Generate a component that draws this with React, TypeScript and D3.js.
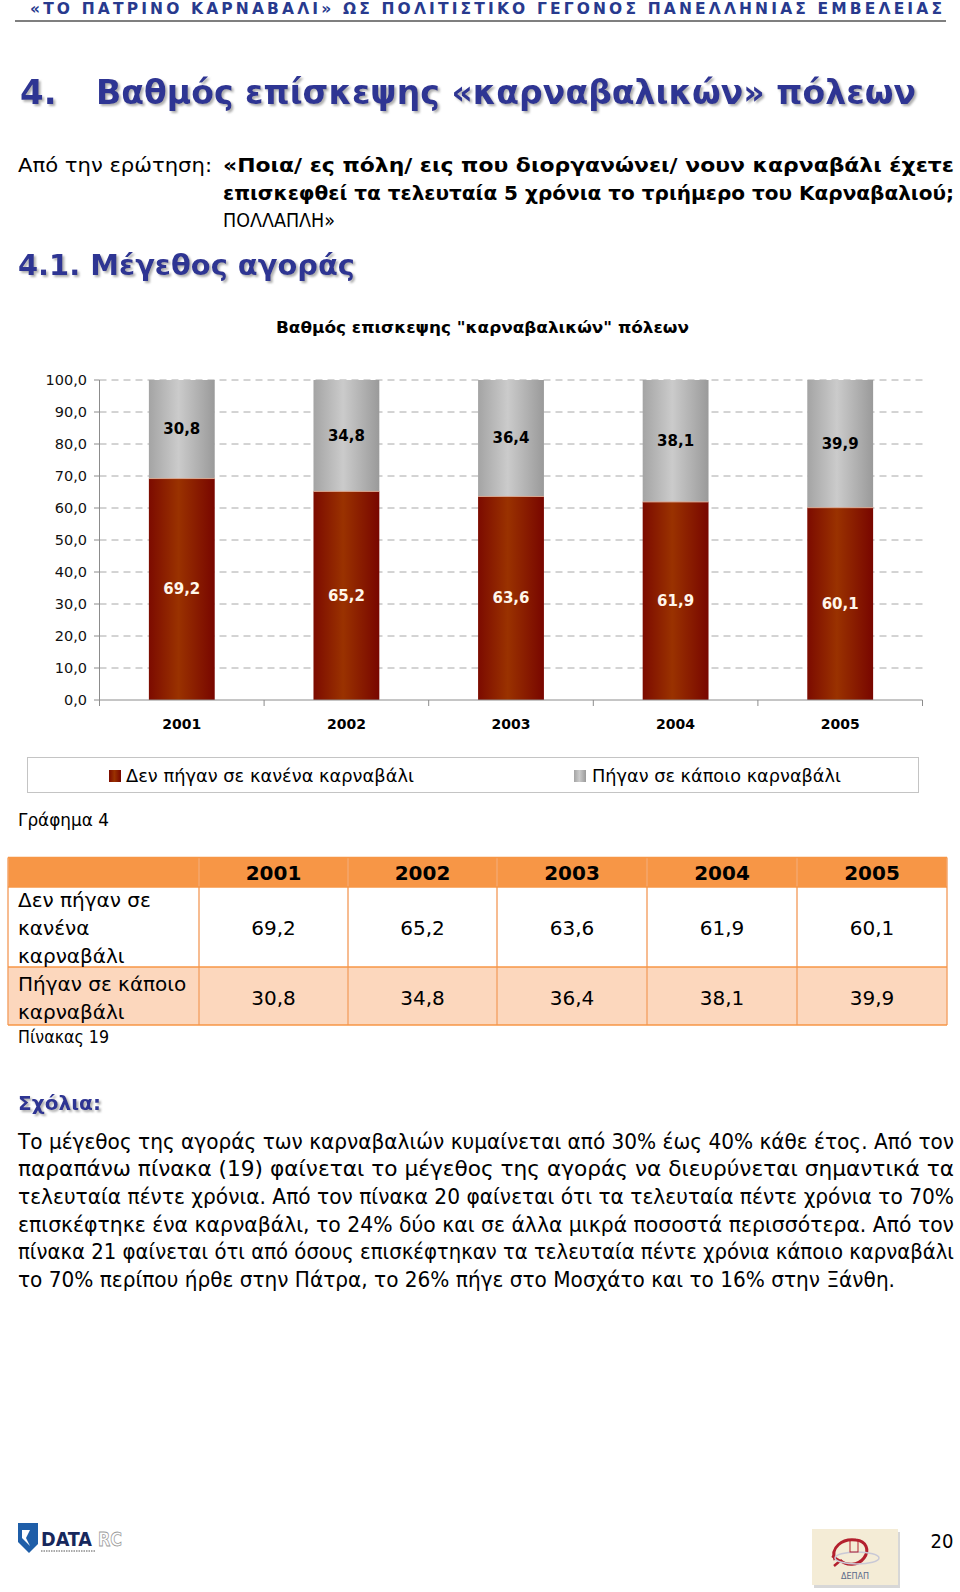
import React from "react";
import * as d3 from "d3";

// ---------- data ----------
const years = ["2001", "2002", "2003", "2004", "2005"];
const notWentValues = [69.2, 65.2, 63.6, 61.9, 60.1];
const wentValues = [30.8, 34.8, 36.4, 38.1, 39.9];
const seriesKeys = ["notWent", "went"];
const seriesNames = ["Δεν πήγαν σε κανένα καρναβάλι", "Πήγαν σε κάποιο καρναβάλι"];
const yTickValues = [0, 10, 20, 30, 40, 50, 60, 70, 80, 90, 100];
const tableRowLabels = [
  ["Δεν πήγαν σε", "κανένα", "καρναβάλι"],
  ["Πήγαν σε κάποιο", "καρναβάλι"],
];
const paragraphLines = [
  "Το μέγεθος της αγοράς των καρναβαλιών κυμαίνεται από 30% έως 40% κάθε έτος. Από τον",
  "παραπάνω πίνακα (19) φαίνεται το μέγεθος της αγοράς να διευρύνεται σημαντικά τα",
  "τελευταία πέντε χρόνια. Από τον πίνακα 20 φαίνεται ότι τα τελευταία πέντε χρόνια το 70%",
  "επισκέφτηκε ένα καρναβάλι, το 24% δύο και σε άλλα μικρά ποσοστά περισσότερα. Από τον",
  "πίνακα 21 φαίνεται ότι από όσους επισκέφτηκαν τα τελευταία πέντε χρόνια κάποιο καρναβάλι",
  "το 70% περίπου ήρθε στην Πάτρα, το 26% πήγε στο Μοσχάτο και το 16% στην Ξάνθη.",
];

const SANS = "'DejaVu Sans', Verdana, sans-serif";
const COND = "'DejaVu Sans Condensed', 'DejaVu Sans', sans-serif";
const BLUE = "#2f3593";

const locale = d3.formatLocale({ decimal: ",", thousands: ".", grouping: [3], currency: ["", "€"] });
const fmt = locale.format(".1f");

export default function App() {
  // chart geometry
  const plotLeft = 99.5, plotRight = 922.5, plotTop = 380, plotBottom = 700;
  const x = d3.scaleBand<string>().domain(years).range([plotLeft, plotRight]).paddingInner(0.6).paddingOuter(0.3);
  const y = d3.scaleLinear().domain([0, 100]).range([plotBottom, plotTop]);
  const rows = years.map((yr, i) => ({ year: yr, notWent: notWentValues[i], went: wentValues[i] }));
  const stacked = d3.stack<any>().keys(seriesKeys)(rows);
  const fills = ["url(#gRed)", "url(#gGray)"];
  const labelColors = ["#fff6ea", "#000"];

  // table geometry
  const colEdges = [8, 199, 348, 497, 647, 797, 947];
  const rowEdges = [857.5, 887, 967, 1025];
  const paraY = [1142, 1169, 1197, 1225, 1252, 1280];

  return (
    <svg width={960} height={1592} style={{ position: "absolute", left: 0, top: 0, display: "block", background: "#fff" }}>
      <defs>
        <linearGradient id="gRed" x1="0" x2="1" y1="0" y2="0">
          <stop offset="0%" stopColor="#7c0b00" />
          <stop offset="45%" stopColor="#9a3200" />
          <stop offset="100%" stopColor="#780600" />
        </linearGradient>
        <linearGradient id="gGray" x1="0" x2="1" y1="0" y2="0">
          <stop offset="0%" stopColor="#a4a4a4" />
          <stop offset="45%" stopColor="#cbcbcb" />
          <stop offset="100%" stopColor="#9a9a9a" />
        </linearGradient>
        <filter id="shadow" x="-5%" y="-20%" width="110%" height="150%">
          <feDropShadow dx="2" dy="2" stdDeviation="0.8" floodColor="#9a9a9a" floodOpacity="0.8" />
        </filter>
      </defs>
      <rect x={0} y={0} width={960} height={1592} fill="#fff" />

      {/* running header */}
      <text x={30} y={9} dominantBaseline="central" fontFamily={SANS} fontWeight="bold" fontSize={15.5} fill="#283a8e"
        textLength={912} lengthAdjust="spacing">
        «ΤΟ ΠΑΤΡΙΝΟ ΚΑΡΝΑΒΑΛΙ» ΩΣ ΠΟΛΙΤΙΣΤΙΚΟ ΓΕΓΟΝΟΣ ΠΑΝΕΛΛΗΝΙΑΣ ΕΜΒΕΛΕΙΑΣ
      </text>
      <line x1={15} x2={946} y1={21} y2={21} stroke="#000" strokeWidth={1.2} />

      {/* section title */}
      <g filter="url(#shadow)" fill={BLUE} fontFamily={SANS} fontWeight="bold">
        <text x={20} y={92} dominantBaseline="central" fontSize={34}>4.</text>
        <text x={96} y={92} dominantBaseline="central" fontSize={34} textLength={820} lengthAdjust="spacingAndGlyphs">
          Βαθμός επίσκεψης «καρναβαλικών» πόλεων
        </text>
      </g>

      {/* question */}
      <g fontFamily={COND} fontSize={20} fill="#000">
        <text x={18} y={165} dominantBaseline="central" textLength={194} lengthAdjust="spacingAndGlyphs">Από την ερώτηση:</text>
        <text x={223} y={165} dominantBaseline="central" fontWeight="bold" textLength={731} lengthAdjust="spacingAndGlyphs">
          «Ποια/ ες πόλη/ εις που διοργανώνει/ νουν καρναβάλι έχετε
        </text>
        <text x={223} y={193} dominantBaseline="central" fontWeight="bold" textLength={731} lengthAdjust="spacingAndGlyphs">
          επισκεφθεί τα τελευταία 5 χρόνια το τριήμερο του Καρναβαλιού;
        </text>
        <text x={223} y={220} dominantBaseline="central" fontSize={19} textLength={112} lengthAdjust="spacingAndGlyphs">
          ΠΟΛΛΑΠΛΗ»
        </text>
      </g>

      {/* subsection */}
      <text x={18} y={265} dominantBaseline="central" fontFamily={SANS} fontWeight="bold" fontSize={28} fill={BLUE}
        filter="url(#shadow)" textLength={337} lengthAdjust="spacingAndGlyphs">
        4.1. Μέγεθος αγοράς
      </text>

      {/* ---------- chart ---------- */}
      <text x={482.5} y={327} textAnchor="middle" dominantBaseline="central" fontFamily={SANS} fontWeight="bold"
        fontSize={16} textLength={413} lengthAdjust="spacingAndGlyphs">
        Βαθμός επισκεψης "καρναβαλικών" πόλεων
      </text>

      {/* gridlines */}
      {yTickValues.filter((t) => t > 0).map((t) => (
        <line key={"g" + t} x1={plotLeft} x2={plotRight} y1={y(t)} y2={y(t)} stroke="#a8a8a8" strokeWidth={1}
          strokeDasharray="7,5" />
      ))}
      {/* y ticks + labels */}
      {yTickValues.map((t) => (
        <g key={"t" + t}>
          <line x1={94} x2={plotLeft} y1={y(t)} y2={y(t)} stroke="#8c8c8c" />
          <text x={87} y={y(t)} textAnchor="end" dominantBaseline="central" fontFamily={SANS} fontSize={14.5} fill="#111">
            {fmt(t)}
          </text>
        </g>
      ))}

      {/* bars */}
      {stacked.map((s, si) => (
        <g key={s.key}>
          {s.map((d: any, i: number) => (
            <rect key={i} x={x(years[i])} y={y(d[1])} width={x.bandwidth()} height={y(d[0]) - y(d[1])} fill={fills[si]} />
          ))}
        </g>
      ))}
      {/* segment boundary highlight */}
      {stacked[0].map((d: any, i: number) => (
        <line key={"b" + i} x1={x(years[i])} x2={(x(years[i]) as number) + x.bandwidth()} y1={y(d[1])} y2={y(d[1])}
          stroke="#d9a58e" strokeWidth={1} />
      ))}
      {/* data labels */}
      {stacked.map((s, si) => (
        <g key={"l" + s.key}>
          {s.map((d: any, i: number) => (
            <text key={i} x={(x(years[i]) as number) + x.bandwidth() / 2} y={(y(d[0]) + y(d[1])) / 2}
              textAnchor="middle" dominantBaseline="central" fontFamily={SANS} fontWeight="bold" fontSize={15}
              fill={labelColors[si]}>
              {fmt(d[1] - d[0])}
            </text>
          ))}
        </g>
      ))}

      {/* axes */}
      <line x1={plotLeft} x2={plotLeft} y1={plotTop} y2={plotBottom} stroke="#8c8c8c" />
      <line x1={plotLeft} x2={plotRight} y1={plotBottom} y2={plotBottom} stroke="#8c8c8c" />
      {d3.range(years.length + 1).map((i) => (
        <line key={"xt" + i} x1={plotLeft + i * x.step()} x2={plotLeft + i * x.step()} y1={plotBottom} y2={plotBottom + 6}
          stroke="#8c8c8c" />
      ))}
      {years.map((yr) => (
        <text key={"xl" + yr} x={(x(yr) as number) + x.bandwidth() / 2} y={724} textAnchor="middle" dominantBaseline="central"
          fontFamily={SANS} fontWeight="bold" fontSize={14}>
          {yr}
        </text>
      ))}

      {/* legend */}
      <rect x={27.5} y={757.5} width={891} height={35} fill="#fff" stroke="#c4c4c4" />
      <rect x={109} y={770} width={12} height={12} fill="url(#gRed)" />
      <text x={126} y={776} dominantBaseline="central" fontFamily={SANS} fontSize={17} textLength={288}
        lengthAdjust="spacingAndGlyphs">
        {seriesNames[0]}
      </text>
      <rect x={574} y={770} width={12} height={12} fill="url(#gGray)" />
      <text x={592} y={776} dominantBaseline="central" fontFamily={SANS} fontSize={17} textLength={249}
        lengthAdjust="spacingAndGlyphs">
        {seriesNames[1]}
      </text>

      <text x={18} y={819} dominantBaseline="central" fontFamily={COND} fontSize={18} textLength={91}
        lengthAdjust="spacingAndGlyphs">
        Γράφημα 4
      </text>

      {/* ---------- table ---------- */}
      <rect x={colEdges[0]} y={rowEdges[0]} width={colEdges[6] - colEdges[0]} height={rowEdges[1] - rowEdges[0]} fill="#f79646" />
      <rect x={colEdges[0]} y={rowEdges[1]} width={colEdges[6] - colEdges[0]} height={rowEdges[2] - rowEdges[1]} fill="#fff" />
      <rect x={colEdges[0]} y={rowEdges[2]} width={colEdges[6] - colEdges[0]} height={rowEdges[3] - rowEdges[2]} fill="#fcd7bd" />
      {colEdges.map((cx, i) => (
        <line key={"c" + i} x1={cx} x2={cx} y1={rowEdges[0]} y2={rowEdges[3]} stroke="#f5a66c" strokeWidth={1.5} />
      ))}
      {rowEdges.map((ry, i) => (
        <line key={"r" + i} x1={colEdges[0]} x2={colEdges[6]} y1={ry} y2={ry} stroke="#f79646" strokeWidth={1.5} />
      ))}
      {years.map((yr, i) => (
        <text key={"th" + yr} x={(colEdges[i + 1] + colEdges[i + 2]) / 2} y={873} textAnchor="middle" dominantBaseline="central"
          fontFamily={SANS} fontWeight="bold" fontSize={20}>
          {yr}
        </text>
      ))}
      {tableRowLabels[0].map((ln, i) => (
        <text key={"ra" + i} x={18} y={900 + i * 28} dominantBaseline="central" fontFamily={SANS} fontSize={20}>{ln}</text>
      ))}
      {tableRowLabels[1].map((ln, i) => (
        <text key={"rb" + i} x={18} y={984 + i * 28} dominantBaseline="central" fontFamily={SANS} fontSize={20}>{ln}</text>
      ))}
      {notWentValues.map((v, i) => (
        <text key={"va" + i} x={(colEdges[i + 1] + colEdges[i + 2]) / 2} y={928} textAnchor="middle" dominantBaseline="central"
          fontFamily={SANS} fontSize={20}>
          {fmt(v)}
        </text>
      ))}
      {wentValues.map((v, i) => (
        <text key={"vb" + i} x={(colEdges[i + 1] + colEdges[i + 2]) / 2} y={998} textAnchor="middle" dominantBaseline="central"
          fontFamily={SANS} fontSize={20}>
          {fmt(v)}
        </text>
      ))}
      <text x={18} y={1037} dominantBaseline="central" fontFamily={COND} fontSize={17} textLength={91}
        lengthAdjust="spacingAndGlyphs">
        Πίνακας 19
      </text>

      {/* ---------- comments ---------- */}
      <text x={18} y={1103} dominantBaseline="central" fontFamily={SANS} fontWeight="bold" fontSize={20} fill={BLUE}
        filter="url(#shadow)" textLength={83} lengthAdjust="spacingAndGlyphs">
        Σχόλια:
      </text>
      {paragraphLines.map((ln, i) => (
        <text key={"p" + i} x={18} y={paraY[i]} dominantBaseline="central" fontFamily={COND} fontSize={20.5}
          textLength={i === paragraphLines.length - 1 ? 877 : 936} lengthAdjust="spacingAndGlyphs">
          {ln}
        </text>
      ))}

      {/* ---------- footer ---------- */}
      <g>
        <path d="M18,1523 L38,1523 L38,1544 L29,1553 L18,1542 Z" fill="#1f5ea8" />
        <path d="M22,1530 L30,1530 L26,1538 L30,1546 L22,1538 Z" fill="#fff" />
        <text x={41} y={1546} fontFamily={COND} fontWeight="bold" fontSize={20} fill="#17285c" textLength={51}
          lengthAdjust="spacingAndGlyphs">DATA</text>
        <text x={98} y={1546} fontFamily={COND} fontWeight="bold" fontSize={20} fill="#fff" stroke="#9a9a9a"
          strokeWidth={0.8} textLength={24} lengthAdjust="spacingAndGlyphs">RC</text>
        <line x1={41} x2={95} y1={1551} y2={1551} stroke="#555" strokeWidth={1.2} strokeDasharray="1.5,1" />
      </g>
      <g>
        <rect x={814} y={1532} width={86} height={56} fill="#bdbdbd" opacity={0.6} />
        <rect x={812} y={1529} width={86} height={56} fill="#f4ecd6" />
        <path d="M835,1560 C830,1548 842,1538 856,1540 C866,1541 870,1550 864,1558 C858,1566 846,1566 840,1560"
          fill="none" stroke="#b3202e" strokeWidth={3} />
        <path d="M832,1556 L840,1561 L834,1566" fill="none" stroke="#b3202e" strokeWidth={2.5} />
        <ellipse cx={857} cy={1558} rx={22} ry={6} fill="none" stroke="#c9c9d6" strokeWidth={1.5} />
        <rect x={850} y={1540} width={8} height={12} fill="none" stroke="#b3202e" strokeWidth={1} />
        <text x={855} y={1579} textAnchor="middle" fontFamily={SANS} fontSize={8} fill="#5a6a8a">ΔΕΠΑΠ</text>
      </g>
      <text x={942} y={1541} textAnchor="middle" dominantBaseline="central" fontFamily={COND} fontSize={20}>20</text>
    </svg>
  );
}
